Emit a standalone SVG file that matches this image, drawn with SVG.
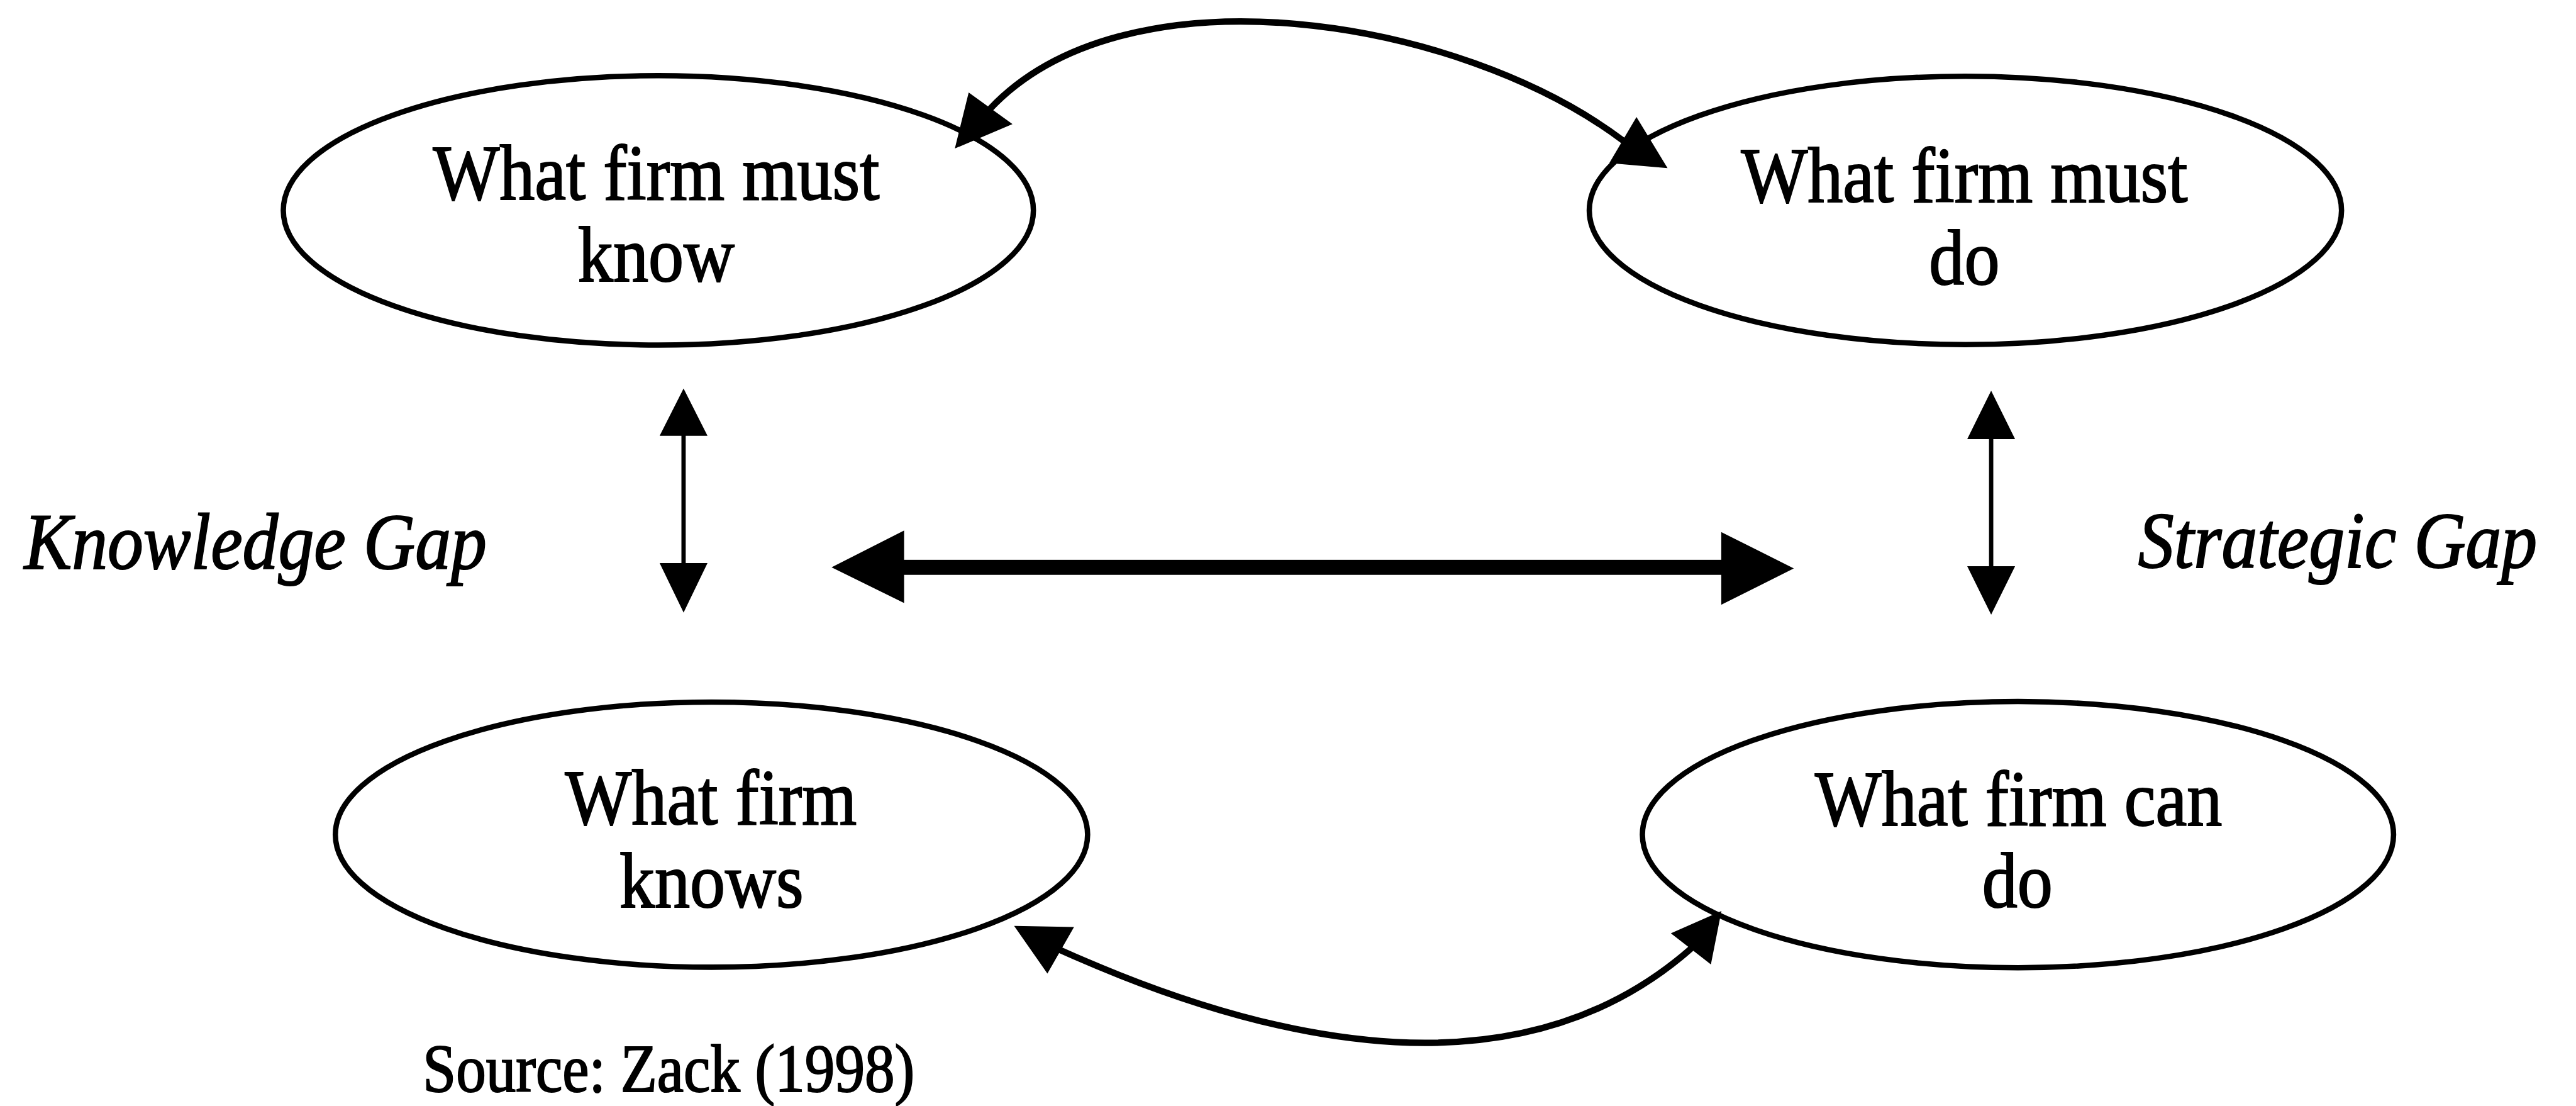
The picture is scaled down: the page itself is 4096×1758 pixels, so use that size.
<svg xmlns="http://www.w3.org/2000/svg" width="4096" height="1758" viewBox="0 0 4096 1758">
  <style>
    .oval { fill: #fff; stroke: #000; stroke-width: 10; }
    .lbl { font-family: "Liberation Serif", "Times New Roman", serif; font-size: 146px; fill: #000; stroke: #000; stroke-width: 2.5; text-anchor: middle; }
    .gap { font-family: "Liberation Serif", "Times New Roman", serif; font-size: 148px; font-style: italic; fill: #000; stroke: #000; stroke-width: 2.5; }
    .src { font-family: "Liberation Serif", "Times New Roman", serif; font-size: 126px; fill: #000; stroke: #000; stroke-width: 2.5; }
    .curve { fill: none; stroke: #000; stroke-width: 12; stroke-linecap: round; }
    .shaft { fill: none; stroke: #000; stroke-width: 8; }
    .head { fill: #000; stroke: #000; stroke-width: 2; stroke-linejoin: miter; }
  </style>
  <rect width="4096" height="1758" fill="#fff"/>
  <!-- drawn in 4801-wide units, scaled to the 4096-wide canvas -->
  <g transform="scale(0.853156)">
    <g id="node-must-know">
      <ellipse class="oval" cx="1227" cy="392" rx="699" ry="251"/>
      <text class="lbl" transform="translate(1223,371) scale(0.9,1)">What firm must</text>
      <text class="lbl" transform="translate(1223,524) scale(0.9,1)">know</text>
    </g>
    <g id="node-must-do">
      <ellipse class="oval" cx="3663" cy="392" rx="701" ry="250"/>
      <text class="lbl" transform="translate(3661,376) scale(0.9,1)">What firm must</text>
      <text class="lbl" transform="translate(3661,530) scale(0.9,1)">do</text>
    </g>
    <g id="node-knows">
      <ellipse class="oval" cx="1326" cy="1555" rx="701" ry="247"/>
      <text class="lbl" transform="translate(1325,1536) scale(0.9,1)">What firm</text>
      <text class="lbl" transform="translate(1326,1690) scale(0.9,1)">knows</text>
    </g>
    <g id="node-can-do">
      <ellipse class="oval" cx="3761" cy="1555" rx="700" ry="248"/>
      <text class="lbl" transform="translate(3762,1538) scale(0.9,1)">What firm can</text>
      <text class="lbl" transform="translate(3760,1690) scale(0.9,1)">do</text>
    </g>
    <g id="label-knowledge-gap">
      <text class="gap" transform="translate(45,1060) scale(0.9,1)">Knowledge Gap</text>
    </g>
    <g id="label-strategic-gap">
      <text class="gap" transform="translate(3985,1057) scale(0.9,1)">Strategic Gap</text>
    </g>
    <g id="label-source">
      <text class="src" transform="translate(788,2034) scale(0.885,1)">Source: Zack (1998)</text>
    </g>
    <g id="connectors">
      <!-- top curved two-way arrow -->
      <path class="curve" d="M1845,203 C2100,-68 2720,32 3025,262"/>
      <polygon class="head" points="1781,275 1806,174 1885,231"/>
      <polygon class="head" points="3106,312 3050,220 3001,303"/>
      <!-- bottom curved two-way arrow -->
      <path class="curve" d="M1976,1770 C2386,1954 2837,2044 3152,1767"/>
      <polygon class="head" points="1892,1726 2000,1728 1952,1812"/>
      <polygon class="head" points="3207,1699 3116,1739 3188,1795"/>
      <!-- knowledge gap arrow -->
      <line class="shaft" x1="1274" y1="805" x2="1274" y2="1056"/>
      <polygon class="head" points="1274,726 1231,811 1317,811"/>
      <polygon class="head" points="1274,1139 1231,1050 1317,1050"/>
      <!-- strategic gap arrow -->
      <line class="shaft" x1="3711" y1="811" x2="3711" y2="1062"/>
      <polygon class="head" points="3711,730 3668,817 3754,817"/>
      <polygon class="head" points="3711,1143 3668,1056 3754,1056"/>
      <!-- thick horizontal two-way arrow -->
      <rect x="1680" y="1043" width="1533" height="28" fill="#000"/>
      <polygon class="head" points="1552,1057 1684,990 1684,1122"/>
      <polygon class="head" points="3341,1059 3209,993 3209,1125"/>
    </g>
  </g>
</svg>
